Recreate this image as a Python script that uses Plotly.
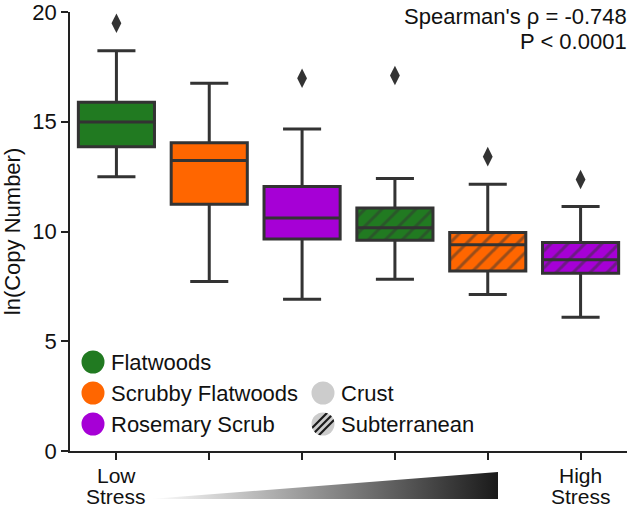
import base64
import plotly.graph_objects as go

# ---------------- data ----------------
categories = ["Flatwoods Crust", "Scrubby Flatwoods Crust", "Rosemary Scrub Crust",
              "Flatwoods Subterranean", "Scrubby Flatwoods Subterranean", "Rosemary Scrub Subterranean"]
positions = [0, 1, 2, 3, 4, 5]
habitat = ["Flatwoods", "Scrubby Flatwoods", "Rosemary Scrub",
           "Flatwoods", "Scrubby Flatwoods", "Rosemary Scrub"]
layer = ["Crust", "Crust", "Crust", "Subterranean", "Subterranean", "Subterranean"]
q1_vals = [13.86, 11.24, 9.66, 9.60, 8.20, 8.10]
median_vals = [14.99, 13.23, 10.61, 10.17, 9.40, 8.71]
q3_vals = [15.89, 14.04, 12.05, 11.07, 9.95, 9.50]
lower_whisker = [12.50, 7.72, 6.91, 7.83, 7.13, 6.09]
upper_whisker = [18.24, 16.75, 14.67, 12.42, 12.15, 11.14]
outlier_x = [0, 2, 3, 4, 5]
outlier_y = [19.49, 16.98, 17.11, 13.41, 12.37]
y_ticks = [0, 5, 10, 15, 20]
x_tick_labels = ["Low Stress", "", "", "", "", "High Stress"]
legend_habitats = ["Flatwoods", "Scrubby Flatwoods", "Rosemary Scrub"]
legend_layers = ["Crust", "Subterranean"]
stat_lines = ["Spearman's ρ = -0.748", "P < 0.0001"]

# ---------------- style ----------------
colors = {"Flatwoods": "#217a21", "Scrubby Flatwoods": "#ff6600", "Rosemary Scrub": "#a600d6"}
edge = "#333333"
FONT = "Liberation Sans, Arial, sans-serif"
FS = 22
W, H = 631, 507
ML, MR, MT, MB = 70, 4, 12, 56
PW, PH = W - ML - MR, H - MT - MB
BOX_W = 0.82


def px_x(px):
    return (px - ML) / PW


def px_y(py):
    return (H - MB - py) / PH


fig = go.Figure()

# hatched fills (drawn under the boxes)
for i in range(len(categories)):
    if layer[i] == "Subterranean":
        fig.add_trace(go.Bar(
            x=[positions[i]], y=[q3_vals[i] - q1_vals[i]], base=[q1_vals[i]],
            width=BOX_W, showlegend=False, hoverinfo="skip",
            marker=dict(color=colors[habitat[i]], line=dict(width=0),
                        pattern=dict(shape="/", fgcolor=edge, size=12,
                                     solidity=0.25, fillmode="overlay")),
        ))

# boxes
for i in range(len(categories)):
    fill = colors[habitat[i]] if layer[i] == "Crust" else "rgba(0,0,0,0)"
    fig.add_trace(go.Box(
        x=[positions[i]], q1=[q1_vals[i]], median=[median_vals[i]], q3=[q3_vals[i]],
        lowerfence=[lower_whisker[i]], upperfence=[upper_whisker[i]],
        name=categories[i], boxpoints=False, width=BOX_W, whiskerwidth=0.5,
        fillcolor=fill, line=dict(color=edge, width=3), showlegend=False,
    ))

# outliers
fig.add_trace(go.Scatter(
    x=outlier_x, y=outlier_y, mode="markers", showlegend=False,
    marker=dict(symbol="diamond-tall", size=14, color=edge, line=dict(width=0)),
))

annotations = []
shapes = []
images = []

# stats text
annotations.append(dict(text=stat_lines[0], x=px_x(629), y=px_y(17), xref="paper", yref="paper",
                        xanchor="right", yanchor="middle", showarrow=False,
                        font=dict(family=FONT, size=FS, color="#111")))
annotations.append(dict(text=stat_lines[1], x=px_x(629), y=px_y(41), xref="paper", yref="paper",
                        xanchor="right", yanchor="middle", showarrow=False,
                        font=dict(family=FONT, size=FS, color="#111")))

# stress labels under the axis
for pos, lab in zip(positions, x_tick_labels):
    if not lab:
        continue
    w1, w2 = lab.split(" ")
    for word, py in ((w1, 475), (w2, 496)):
        annotations.append(dict(text=word, x=pos, xref="x", y=px_y(py), yref="paper",
                                xanchor="center", yanchor="middle", showarrow=False,
                                font=dict(family=FONT, size=FS - 1, color="#111")))

# gradient wedge
svg = ('<svg xmlns="http://www.w3.org/2000/svg" width="348" height="27" viewBox="0 0 348 27" '
       'preserveAspectRatio="none"><defs><linearGradient id="g" x1="0" y1="0" x2="1" y2="0">'
       '<stop offset="0" stop-color="#ffffff"/><stop offset="1" stop-color="#1a1a1a"/>'
       '</linearGradient></defs><polygon points="0,27 348,0 348,27" fill="url(#g)"/></svg>')
images.append(dict(source="data:image/svg+xml;base64," + base64.b64encode(svg.encode()).decode(),
                   xref="paper", yref="paper", x=px_x(150), y=px_y(472),
                   sizex=348 / PW, sizey=27 / PH, xanchor="left", yanchor="top",
                   sizing="stretch", layer="above"))

# legend: habitats
rows_y = [362, 393, 424]
for name, py in zip(legend_habitats, rows_y):
    shapes.append(dict(type="circle", xref="paper", yref="paper", xsizemode="pixel", ysizemode="pixel",
                       xanchor=px_x(93), yanchor=px_y(py), x0=-11.5, x1=11.5, y0=-11.5, y1=11.5,
                       fillcolor=colors[name], line=dict(width=0)))
    annotations.append(dict(text=name, x=px_x(109), y=px_y(py), xref="paper", yref="paper",
                            xanchor="left", yanchor="middle", showarrow=False,
                            font=dict(family=FONT, size=FS, color="#111")))

# legend: layers
shapes.append(dict(type="circle", xref="paper", yref="paper", xsizemode="pixel", ysizemode="pixel",
                   xanchor=px_x(323), yanchor=px_y(rows_y[1]), x0=-11.5, x1=11.5, y0=-11.5, y1=11.5,
                   fillcolor="#cccccc", line=dict(width=0)))
hsvg = ('<svg xmlns="http://www.w3.org/2000/svg" width="24" height="24" viewBox="0 0 24 24">'
        '<defs><clipPath id="c"><circle cx="12" cy="12" r="11.5"/></clipPath></defs>'
        '<circle cx="12" cy="12" r="11.5" fill="#cccccc"/>'
        '<g clip-path="url(#c)" stroke="#1a1a1a" stroke-width="2.2">'
        '<line x1="-7" y1="24" x2="17" y2="0"/><line x1="0" y1="24" x2="24" y2="0"/>'
        '<line x1="7" y1="24" x2="31" y2="0"/></g></svg>')
images.append(dict(source="data:image/svg+xml;base64," + base64.b64encode(hsvg.encode()).decode(),
                   xref="paper", yref="paper", x=px_x(311), y=px_y(rows_y[2] - 12),
                   sizex=24 / PW, sizey=24 / PH, xanchor="left", yanchor="top",
                   sizing="stretch", layer="above"))
for name, py in zip(legend_layers, rows_y[1:]):
    annotations.append(dict(text=name, x=px_x(339), y=px_y(py), xref="paper", yref="paper",
                            xanchor="left", yanchor="middle", showarrow=False,
                            font=dict(family=FONT, size=FS, color="#111")))

fig.update_layout(
    width=W, height=H, margin=dict(l=ML, r=MR, t=MT, b=MB, autoexpand=False),
    paper_bgcolor="white", plot_bgcolor="white",
    boxmode="overlay", barmode="overlay",
    font=dict(family=FONT, size=FS, color="#111"),
    annotations=annotations, shapes=shapes, images=images,
    xaxis=dict(range=[-0.5, 5.5], tickvals=positions, ticktext=[""] * 6, automargin=False,
               showline=True, linecolor="#222", linewidth=1.5, ticks="outside",
               ticklen=7, tickwidth=1.5, tickcolor="#222", showgrid=False, zeroline=False),
    yaxis=dict(range=[0, 20], tickvals=y_ticks, showline=True, linecolor="#222", linewidth=1.5,
               ticks="outside", ticklen=7, tickwidth=1.5, tickcolor="#222", showgrid=False,
               zeroline=False, ticklabeloverflow="allow", automargin=False,
               title=dict(text="ln(Copy Number)", standoff=8, font=dict(family=FONT, size=FS)),
               tickfont=dict(family=FONT, size=FS)),
)

fig.write_html("out.html", config={"displayModeBar": False},
               post_script="document.body.style.margin='0';document.body.style.overflow='hidden';")
